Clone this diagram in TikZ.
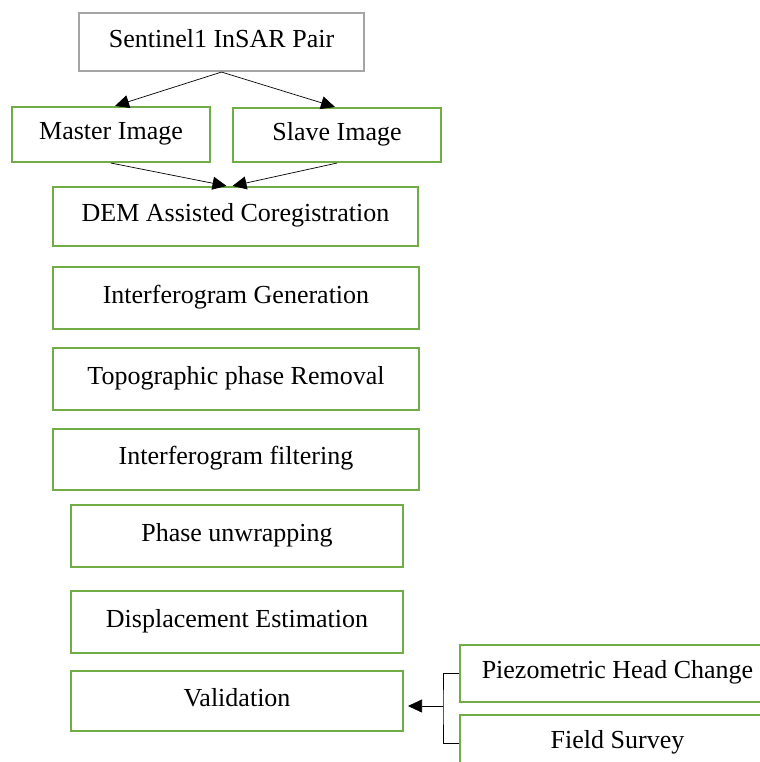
\documentclass[tikz,border=0pt]{standalone}
\usepackage{fontspec}
\setmainfont{Liberation Serif}
\usepackage{xcolor}
\usetikzlibrary{arrows.meta}

\definecolor{boxgreen}{RGB}{112,173,71}
\definecolor{boxgray}{RGB}{165,165,165}

\begin{document}
\begin{tikzpicture}[
  x=0.02cm, y=-0.02cm,
  every node/.style={font=\fontsize{14.8}{17}\selectfont},
  box/.style={rectangle,draw=boxgreen,line width=1.2pt,fill=white,inner sep=0pt,text height=0.72em,text depth=0.15em},
  graybox/.style={box,draw=boxgray},
  arrow/.style={-{Triangle[length=0.28cm,width=0.26cm]},thin}
]
\clip (0,0) rectangle (760,762);

\node[graybox,minimum width=5.7cm,minimum height=1.16cm] (pair) at (221.5,42) {Sentinel1 InSAR Pair};
\node[box,minimum width=3.96cm,minimum height=1.1cm] (master) at (111,134.5) {Master Image};
\node[box,minimum width=4.16cm,minimum height=1.08cm] (slave) at (337,135) {Slave Image};
\node[box,minimum width=7.3cm,minimum height=1.18cm] (dem) at (235.5,216.5) {DEM Assisted Coregistration};
\node[box,minimum width=7.32cm,minimum height=1.24cm] (ifg) at (236,298) {Interferogram Generation};
\node[box,minimum width=7.32cm,minimum height=1.24cm] (topo) at (236,379) {Topographic phase Removal};
\node[box,minimum width=7.32cm,minimum height=1.22cm] (filt) at (236,459.5) {Interferogram filtering};
\node[box,minimum width=6.64cm,minimum height=1.24cm] (unwrap) at (237,536) {Phase unwrapping};
\node[box,minimum width=6.64cm,minimum height=1.24cm] (disp) at (237,622) {Displacement Estimation};
\node[box,minimum width=6.64cm,minimum height=1.2cm] (valid) at (237,701) {Validation};
\node[box,minimum width=6.3cm,minimum height=1.14cm] (piezo) at (617.5,673.5) {Piezometric Head Change};
\node[box,minimum width=6.3cm,minimum height=1.14cm] (field) at (617.5,743.5) {Field Survey};

\coordinate (fork) at (443,706);

\draw[arrow] (pair.south) -- ([xshift=0.08cm]master.north);
\draw[arrow] (pair.south) -- ([xshift=-0.04cm]slave.north);
\draw[arrow] (master.south) -- ([xshift=-0.18cm]dem.north);
\draw[arrow] (slave.south) -- ([xshift=-0.06cm]dem.north);
\draw[thin] (piezo.west) -| (fork) |- (field.west);
\draw[arrow,shorten >=0.08cm] (fork) -- (valid.east |- fork);
\end{tikzpicture}
\end{document}
